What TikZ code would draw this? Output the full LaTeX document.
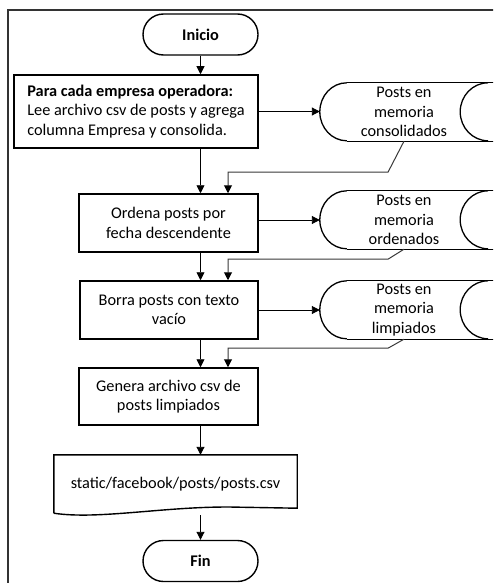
\documentclass[tikz,border=0pt]{standalone}
\usepackage{fontspec}
\setmainfont{Carlito}
\usetikzlibrary{arrows.meta,shapes.misc,calc}

% outline of a "stored data" symbol around a plain node
\newcommand\storeoutline[1]{%
  \draw[line width=1.3pt] ([xshift=27pt]#1.north west) -- ([xshift=8pt]#1.north east);
  \draw[line width=1.3pt] ([xshift=27pt]#1.south west) -- ([xshift=8pt]#1.south east);
  \draw[line width=1.3pt] ([xshift=27pt]#1.north west)
    arc[start angle=90,end angle=270,x radius=27pt,y radius=29pt];
  \draw[line width=1.3pt] (#1.north east)
    arc[start angle=90,end angle=270,x radius=28pt,y radius=29pt];
}

\begin{document}
\begin{tikzpicture}[x=1pt,y=1pt,
  font=\fontsize{16.3}{19.5}\selectfont,
  flow/.style={-{Triangle[length=8pt,width=8pt]}, line width=0.9pt},
  feed/.style={-{Triangle[length=8pt,width=8pt,color=black]}, line width=1pt, draw=black!78},
  term/.style={rounded rectangle, draw, line width=1.4pt, minimum width=115pt,
    minimum height=41pt, inner sep=0pt, font=\fontsize{16.3}{19.5}\selectfont\bfseries},
  proc/.style={rectangle, draw, line width=1.5pt, align=center, inner sep=0pt},
  store/.style={rectangle, minimum width=168pt, minimum height=58pt, align=center, inner sep=0pt},
  docbox/.style={rectangle, minimum width=243pt, minimum height=58pt, inner sep=0pt}
]
\useasboundingbox (0,0) rectangle (493,-583);
\clip (0,0) rectangle (493,-583);

% page frame
\draw[line width=1.2pt, black!80] (8,-590) -- (8,-10) -- (500,-10);

% main column
\node[term] (inicio) at (200.5,-34.5) {Inicio};
\node[proc, align=left, minimum width=244pt, minimum height=73pt] (box1) at (136,-111.5)
  {\textbf{Para cada empresa operadora:}\\Lee archivo csv de posts y agrega\\columna Empresa y consolida.};
\node[proc, minimum width=179pt, minimum height=58pt] (box2) at (168.5,-223)
  {Ordena posts por\\fecha descendente};
\node[proc, minimum width=178pt, minimum height=58pt] (box3) at (169,-310)
  {Borra posts con texto\\vacío};
\node[proc, minimum width=179pt, minimum height=57pt] (box4) at (168.5,-396.5)
  {Genera archivo csv de\\posts limpiados};
\node[docbox] (doc) at (175.5,-484) {static/facebook/posts/posts.csv};
\node[term] (fin) at (200.5,-561) {Fin};

% document symbol
\draw[line width=1.4pt] (doc.south west) -- (doc.north west) -- (doc.north east)
  -- ([yshift=5pt]doc.south east) -- ($(doc.south west)+(186,6)$)
  .. controls ($(doc.south west)+(116,8)$) and ($(doc.south west)+(46,-7)$) .. (doc.south west);

% in-memory data
\node[store] (d1) at (404,-112) {Posts en\\memoria\\consolidados};
\node[store] (d2) at (404,-220) {Posts en\\memoria\\ordenados};
\node[store] (d3) at (404,-310) {Posts en\\memoria\\limpiados};
\storeoutline{d1}
\storeoutline{d2}
\storeoutline{d3}

% control flow
\draw[flow] (inicio.south) -- (inicio.south |- box1.north);
\draw[flow] (inicio.south |- box1.south) -- (inicio.south |- box2.north);
\draw[flow] (inicio.south |- box2.south) -- (inicio.south |- box3.north);
\draw[flow] (inicio.south |- box3.south) -- (inicio.south |- box4.north);
\draw[flow] (inicio.south |- box4.south) -- (inicio.south |- doc.north);
\draw[flow] ([yshift=-2pt]inicio.south |- doc.south) -- (fin.north);

% data written
\draw[flow] (box1.east) -- (box1.east -| d1.west);
\draw[flow] (d2.west -| box2.east) -- (d2.west);
\draw[flow] (d3.west -| box3.east) -- (d3.west);

% data read back
\draw[feed] (d1.south) -- ++(-16,-31) -| ([xshift=27.5pt]inicio.south |- box2.north);
\draw[feed] (d2.south) -- ++(-16,-10) -| ([xshift=27.5pt]inicio.south |- box3.north);
\draw[feed] (d3.south) -- ++(-16,-9) -| ([xshift=27.5pt]inicio.south |- box4.north);
\end{tikzpicture}
\end{document}
